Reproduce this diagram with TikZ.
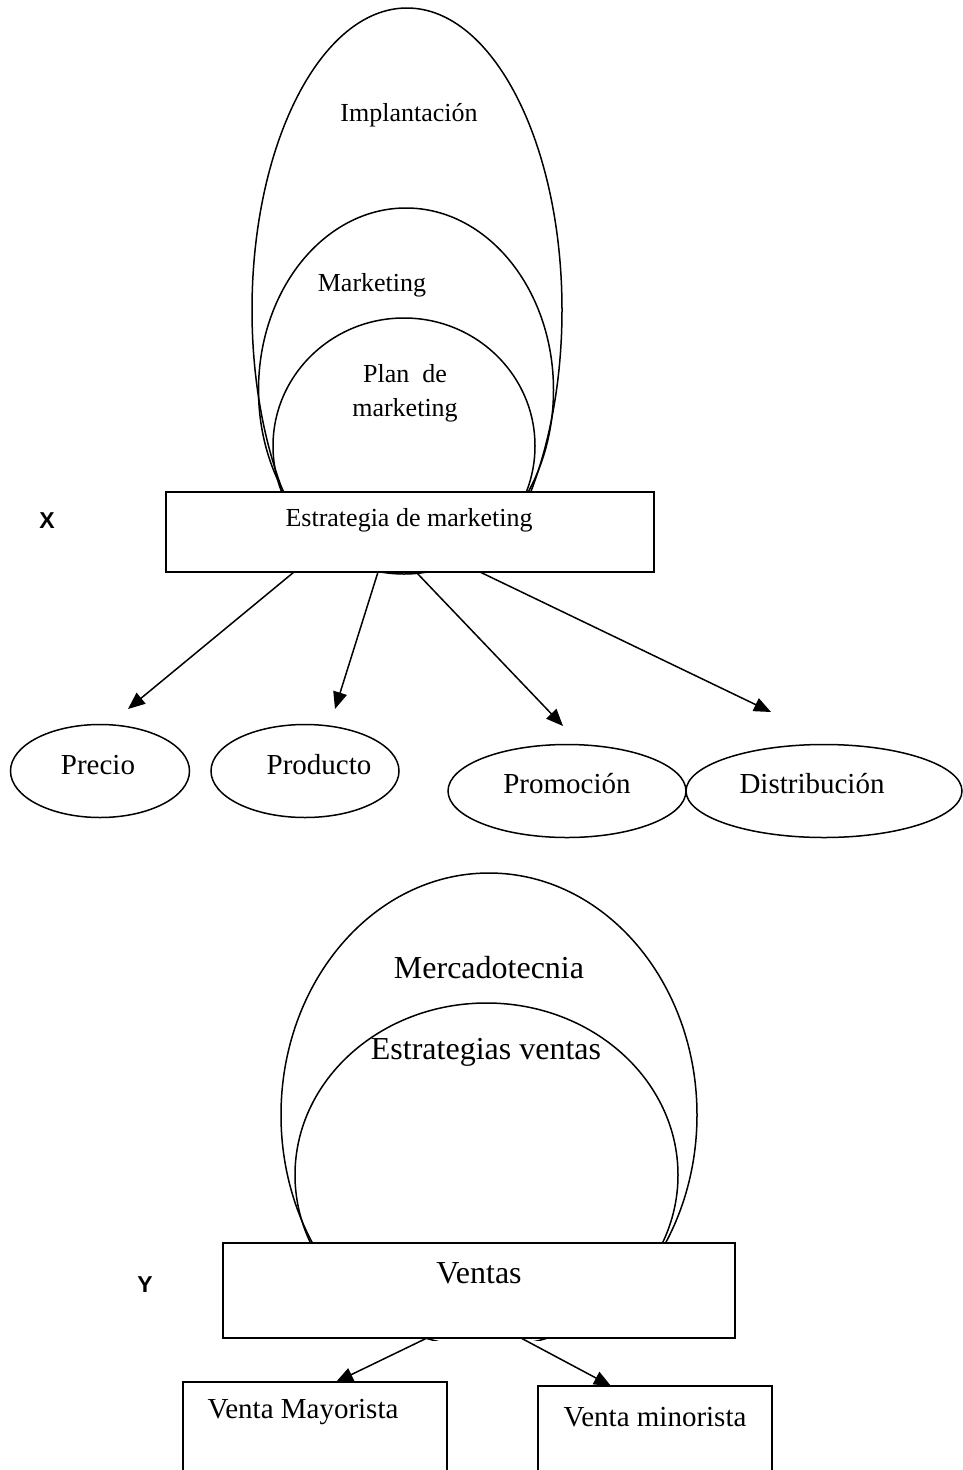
\documentclass[tikz,border=0pt]{standalone}
\usepackage{fontspec}
\setmainfont{Liberation Serif}
\newfontfamily\tagsans{Liberation Sans}
\usetikzlibrary{shapes.geometric,arrows.meta}

\begin{document}
\begin{tikzpicture}[x=1pt,y=-1pt,line width=1.5pt,
  every node/.style={inner sep=0pt,outer sep=0pt},
  ring/.style={draw,ellipse,inner sep=0pt},
  oval/.style={draw,ellipse,fill=white,inner sep=0pt,minimum height=93pt},
  panel/.style={draw,fill=white,rectangle,inner sep=0pt,anchor=north west},
  arr/.style={-{Triangle[length=17pt,width=14pt]}},
  big/.style={font=\fontsize{26}{34}\selectfont},
  mid/.style={font=\fontsize{29}{34}\selectfont},
  huge/.style={font=\fontsize{32}{38}\selectfont},
  tag/.style={font=\tagsans\bfseries\fontsize{23}{26}\selectfont}]

\clip (0,0) rectangle (963,1470);

% ---------- upper group: nested ovals behind the strategy box ----------
\begin{scope}
  \clip (0,0) rectangle (963,572);
  \node[ring,minimum width=310pt,minimum height=604pt] (impl) at (407,310) {};
\end{scope}
\node[ring,minimum width=295pt,minimum height=364pt] (mkt) at (406,390) {};
\node[ring,minimum width=262pt,minimum height=256pt] (plan) at (404,446) {};

\node[big] (impltxt) at (409,115) {Implantación};
\node[big] (mkttxt) at (372,285) {Marketing};
\node[big,align=center] (plantxt) at (405,393) {Plan\ \ de\\marketing};

\node[panel,minimum width=488pt,minimum height=80pt] (strat) at (166,492) {};
\node[big] (strattxt) at (409,520) {Estrategia de marketing};
\node[tag] (xtag) at (47,521) {X};

% the four marketing mix components
\node[oval,minimum width=179pt] (precio) at (100,771) {};
\node[oval,minimum width=188pt] (producto) at (305,771) {};
\node[oval,minimum width=238pt] (promo) at (567,791) {};
\node[oval,minimum width=276pt] (distrib) at (824,791) {};
\node[mid] (preciotxt) at (98,765) {Precio};
\node[mid] (productotxt) at (319,765) {Producto};
\node[mid] (promotxt) at (567,784) {Promoción};
\node[mid] (distribtxt) at (812,784) {Distribución};

\coordinate (tipA) at (128,709);
\coordinate (tipB) at (335,709);
\coordinate (tipC) at (563,726);
\coordinate (tipD) at (771,712);
\draw[arr] ([xshift=128pt]strat.south west) -- (tipA);
\draw[arr] ([xshift=212pt]strat.south west) -- (tipB);
\draw[arr] ([xshift=250pt]strat.south west) -- (tipC);
\draw[arr] ([xshift=314pt]strat.south west) -- (tipD);

% ---------- lower group: sales ----------
\begin{scope}
  \clip (0,0) rectangle (963,1338);
  \node[ring,minimum width=416pt,minimum height=484pt] (merca) at (489,1115) {};
\end{scope}
\begin{scope}
  \clip (0,0) rectangle (963,1340.5);
  \node[ring,minimum width=383pt,minimum height=344pt] (estv) at (486.5,1175) {};
\end{scope}
\node[huge] (mercatxt) at (489,968) {Mercadotecnia};
\node[huge] (estvtxt) at (486,1052) {Estrategias ventas};

\node[panel,minimum width=512pt,minimum height=95pt] (ventas) at (223,1243) {};
\node[huge] (ventastxt) at (479,1273) {Ventas};
\node[tag] (ytag) at (145,1285) {Y};

\node[panel,minimum width=264pt,minimum height=120pt] (mayor) at (183,1382) {};
\node[panel,minimum width=234pt,minimum height=120pt] (minor) at (538,1386) {};
\node[mid] (mayortxt) at (303,1412) {Venta Mayorista};
\node[mid] (minortxt) at (655,1417) {Venta minorista};

\draw[arr] ([xshift=204pt]ventas.south west) -- ([xshift=153pt]mayor.north west);
\draw[arr] ([xshift=298pt]ventas.south west) -- ([xshift=73pt]minor.north west);
\end{tikzpicture}
\end{document}
